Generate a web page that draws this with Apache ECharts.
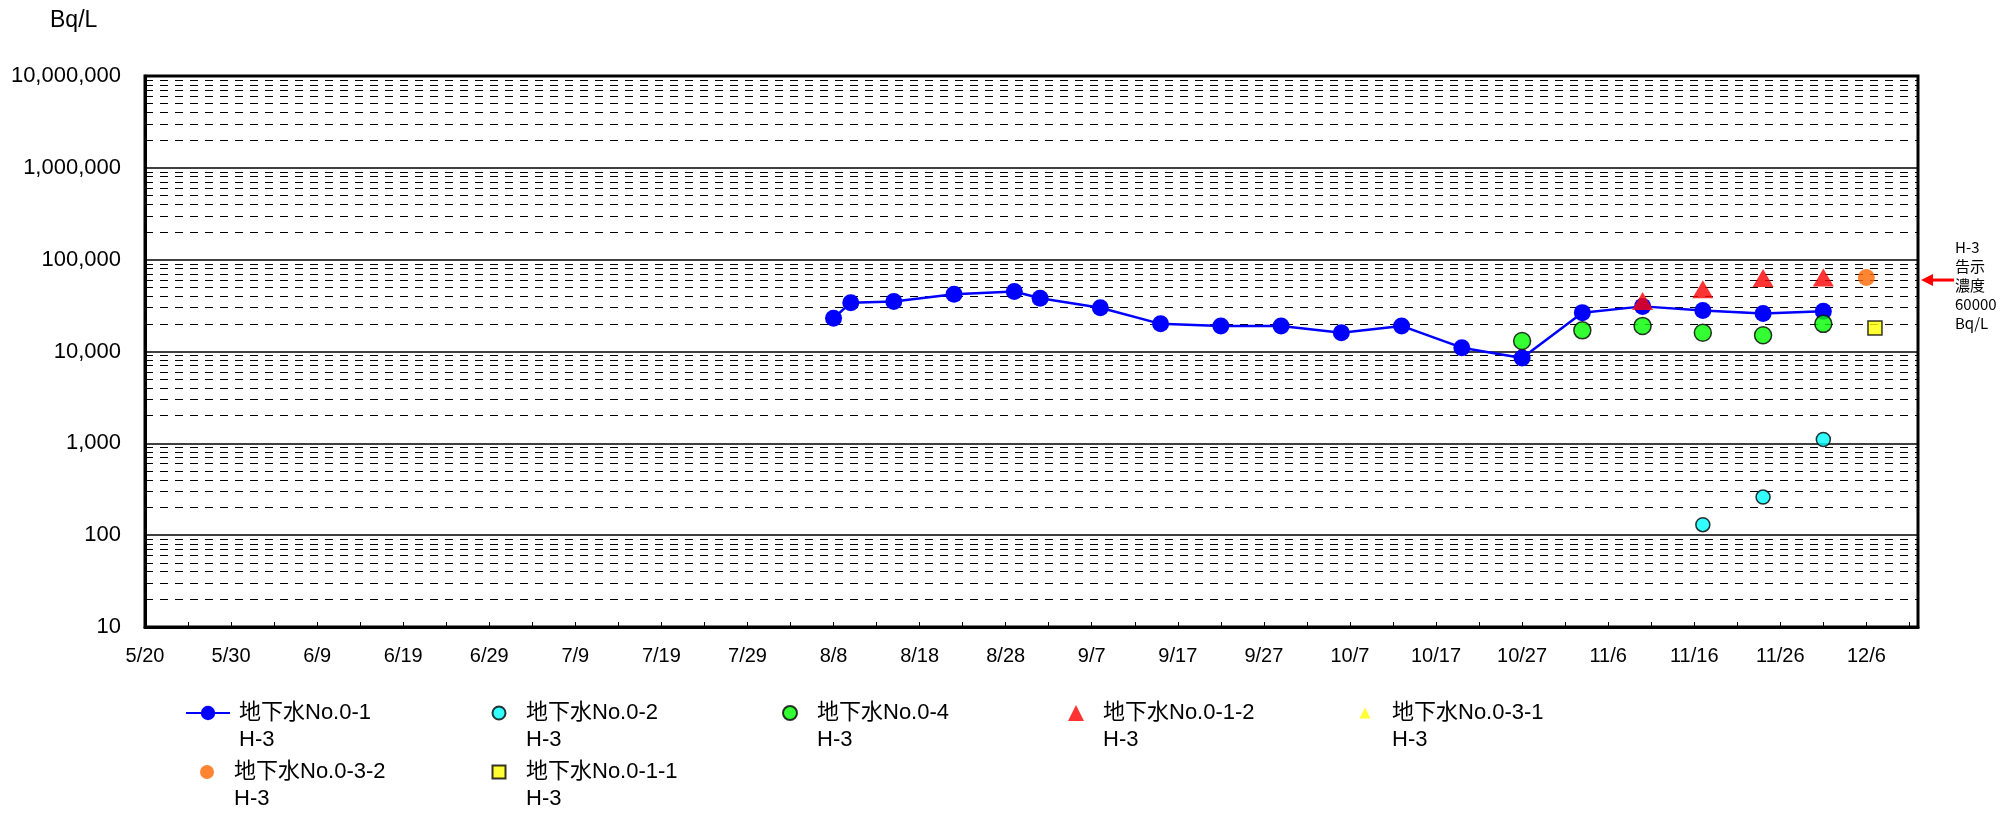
<!DOCTYPE html>
<html>
<head>
<meta charset="utf-8">
<script src="https://cdn.jsdelivr.net/npm/echarts@6/dist/echarts.min.js"></script>
<style>
html,body{margin:0;padding:0;background:#fff;}
#chart{width:2014px;height:814px;}
</style>
</head>
<body>
<div id="chart"></div>
<script>
// ---- data ----
const startDate = '2013/5/20';
const endDate = '2013/12/12';
const xTickStepDays = 5;
const yMin = 10, yMax = 10000000;
const minorGridMultipliers = [2, 3, 4, 5, 6, 7, 8, 9];
const minorGridDecades = [10, 100, 1000, 10000, 100000, 1000000];

const no01Dates  = ['8/8','8/10','8/15','8/22','8/29','9/1','9/8','9/15','9/22','9/29','10/6','10/13','10/20','10/27','11/3','11/10','11/17','11/24','12/1'];
const no01Values = [23000, 34000, 35000, 42000, 45000, 38000, 30000, 20000, 19000, 19000, 16000, 19000, 11000, 8500, 26500, 31000, 28000, 26000, 27500];

const no02Dates  = ['11/17','11/24','12/1'];
const no02Values = [130, 260, 1100];

const no04Dates  = ['10/27','11/3','11/10','11/17','11/24','12/1'];
const no04Values = [13000, 17000, 19000, 16000, 15000, 20000];

const no012Dates  = ['11/10','11/17','11/24','12/1'];
const no012Values = [35500, 47500, 63000, 64000];

const no031Dates  = [];
const no031Values = [];

const no032Dates  = ['12/6'];
const no032Values = [64000];

const no011Dates  = ['12/7'];
const no011Values = [18000];

const seriesNames = [
  '地下水No.0-1\nH-3', '地下水No.0-2\nH-3', '地下水No.0-4\nH-3',
  '地下水No.0-1-2\nH-3', '地下水No.0-3-1\nH-3', '地下水No.0-3-2\nH-3', '地下水No.0-1-1\nH-3'
];
const thresholdValue = 60000;
const thresholdText = 'H-3\n告示\n濃度\n60000\nBq/L';
const yUnit = 'Bq/L';

// ---- helpers ----
const DAY = 86400000;
const YEAR = 2013;
const t0 = Date.parse(startDate);
function dayIndex(md) {
  const [m, d] = md.split('/').map(Number);
  return Math.round((Date.UTC(YEAR, m - 1, d) - Date.UTC(YEAR, 4, 20)) / DAY);
}
function dayLabel(v) {
  const dt = new Date(Date.UTC(YEAR, 4, 20) + v * DAY);
  return (dt.getUTCMonth() + 1) + '/' + dt.getUTCDate();
}
const xMaxDays = Math.round((Date.parse(endDate) - t0) / DAY);
function pairs(dates, vals) { return dates.map((d, i) => [dayIndex(d), vals[i]]); }

const minorGrid = [];
minorGridDecades.forEach(dec => minorGridMultipliers.forEach(m => minorGrid.push({ yAxis: dec * m })));

const FONT = 'Liberation Sans, Arial, Noto Sans CJK JP, sans-serif';
const chart = echarts.init(document.getElementById('chart'), null, { renderer: 'canvas' });

// legend placement (icon centres / rows)
const legendIconCenters = [207, 498, 789, 1076, 1365];
const legendRowCenters = [713, 772];
const LEG_LH = 27;
function legendFor(i, iconSize, isLine) {
  const col = i % 5, row = Math.floor(i / 5);
  const W = isLine ? 44 : iconSize;
  const left = legendIconCenters[col] - W / 2;
  const spacer = isLine ? 4 : Math.max(1, 22 - iconSize / 2);
  return {
    data: [seriesNames[i]],
    left: left,
    top: legendRowCenters[row] - LEG_LH * 1.5,
    padding: 0,
    itemWidth: W,
    itemHeight: iconSize,
    selectedMode: false,
    formatter: name => ' \n' + name.split('\n').map(l => '{s| }' + l).join('\n'),
    textStyle: {
      fontFamily: FONT, fontSize: 22, color: '#000', lineHeight: LEG_LH,
      rich: { s: { width: spacer, lineHeight: LEG_LH, fontSize: 22 } }
    }
  };
}

const option = {
  animation: false,
  backgroundColor: '#fff',
  title: { text: yUnit, left: 50, top: 9, padding: 0, textStyle: { fontFamily: FONT, fontSize: 23, fontWeight: 'normal', color: '#000' } },
  grid: { left: 145, right: 96, top: 76, bottom: 187, show: true, borderColor: '#000', borderWidth: 3, containLabel: false },
  xAxis: {
    type: 'value', min: 0, max: xMaxDays, interval: xTickStepDays,
    axisLine: { show: true, lineStyle: { color: '#000', width: 3 } },
    axisTick: { show: true, inside: true, length: 5, lineStyle: { color: '#000', width: 1 } },
    splitLine: { show: false },
    axisLabel: {
      show: true, margin: 19, color: '#000', fontFamily: FONT, fontSize: 20,
      showMaxLabel: false, showMinLabel: true,
      formatter: v => (v % 10 === 0 && v <= 200) ? dayLabel(v) : ''
    }
  },
  yAxis: {
    type: 'log', logBase: 10, min: yMin, max: yMax, splitNumber: 6,
    axisLine: { show: true, lineStyle: { color: '#000', width: 3 } },
    axisTick: { show: false },
    splitLine: { show: true, lineStyle: { color: '#000', width: 1.6 } },
    axisLabel: { margin: 24, color: '#000', fontFamily: FONT, fontSize: 22, formatter: v => Number(v).toLocaleString('en-US') }
  },
  legend: [
    legendFor(0, 18, true), legendFor(1, 13), legendFor(2, 14), legendFor(3, 16), legendFor(4, 11), legendFor(5, 14), legendFor(6, 13)
  ],
  series: [
    {
      type: 'line', data: [], silent: true, z: 1,
      markLine: {
        silent: true, symbol: ['none', 'none'], label: { show: false }, z: 1,
        lineStyle: { color: '#000', width: 1, type: [8, 7] },
        data: minorGrid
      }
    },
    {
      name: seriesNames[0], type: 'line', data: pairs(no01Dates, no01Values), z: 3,
      symbol: 'circle', symbolSize: 17,
      lineStyle: { color: '#0000FF', width: 2.5 },
      itemStyle: { color: '#0000FF' }
    },
    {
      name: seriesNames[1], type: 'scatter', data: pairs(no02Dates, no02Values), z: 4,
      symbol: 'circle', symbolSize: 14,
      itemStyle: { color: '#00FFFF', borderColor: '#000', borderWidth: 1.5 }
    },
    {
      name: seriesNames[2], type: 'scatter', data: pairs(no04Dates, no04Values), z: 4,
      symbol: 'circle', symbolSize: 17,
      itemStyle: { color: '#00FF00', borderColor: '#000', borderWidth: 1.5 }
    },
    {
      name: seriesNames[3], type: 'scatter', data: pairs(no012Dates, no012Values), z: 5,
      symbol: 'triangle', symbolSize: [21, 18],
      itemStyle: { color: '#FF0000' }
    },
    {
      name: seriesNames[4], type: 'scatter', data: pairs(no031Dates, no031Values), z: 5,
      symbol: 'triangle', symbolSize: 12,
      itemStyle: { color: '#FFFF00' }
    },
    {
      name: seriesNames[5], type: 'scatter', data: pairs(no032Dates, no032Values), z: 5,
      symbol: 'circle', symbolSize: 17,
      itemStyle: { color: '#FF6600' }
    },
    {
      name: seriesNames[6], type: 'scatter', data: pairs(no011Dates, no011Values), z: 5,
      symbol: 'rect', symbolSize: 14,
      itemStyle: { color: '#FFFF00', borderColor: '#000', borderWidth: 1.5 }
    }
  ]
};
chart.setOption(option);

// threshold annotation outside the plot, placed through the y scale
const yT = chart.convertToPixel({ yAxisIndex: 0 }, thresholdValue);
const xRight = chart.convertToPixel({ xAxisIndex: 0 }, xMaxDays);
chart.setOption({
  graphic: [
    { type: 'line', shape: { x1: xRight + 12, y1: yT, x2: xRight + 36, y2: yT }, style: { stroke: '#FF0000', lineWidth: 3 }, silent: true },
    { type: 'polygon', shape: { points: [[xRight + 3, yT], [xRight + 15, yT - 6], [xRight + 15, yT + 6]] }, style: { fill: '#FF0000' }, silent: true },
    { type: 'text', left: xRight + 37, top: yT - 42, silent: true,
      style: { text: thresholdText, fill: '#000', font: '15px "Noto Sans CJK JP", sans-serif', lineHeight: 19 } }
  ]
});
</script>
</body>
</html>
